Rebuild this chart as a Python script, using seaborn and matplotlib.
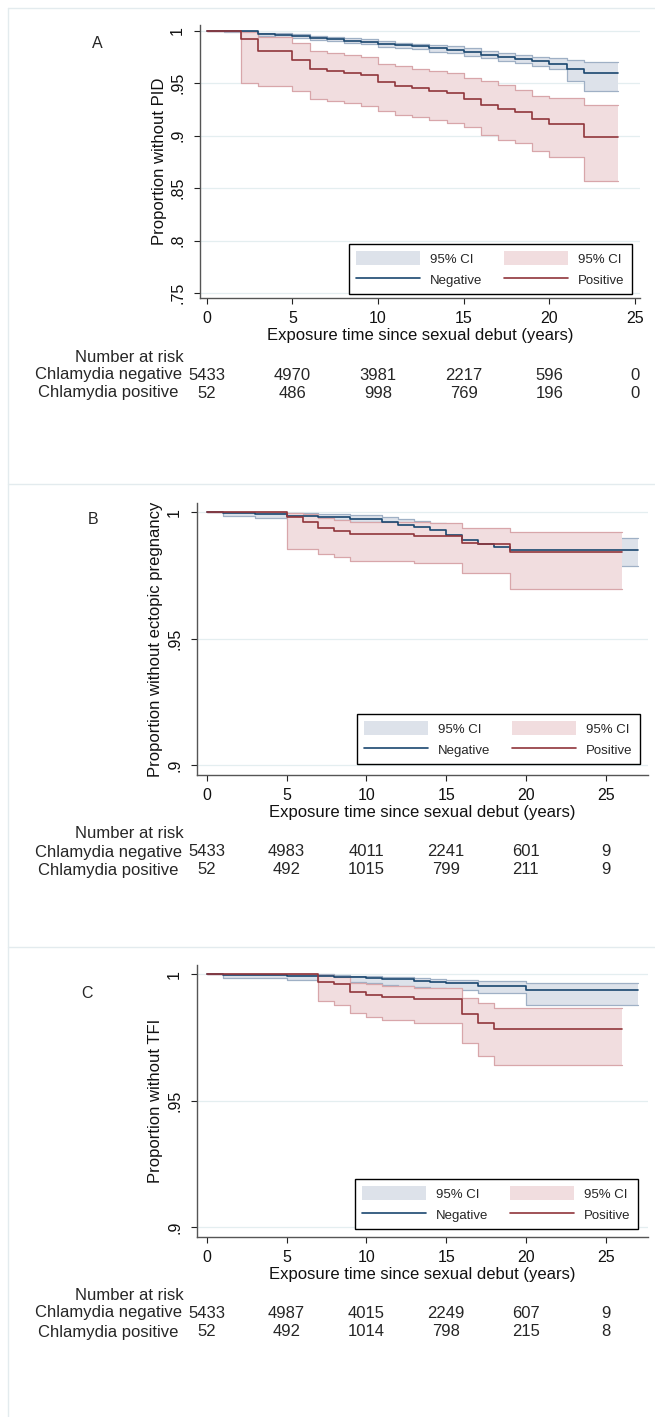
import matplotlib.pyplot as plt
import seaborn as sns
from matplotlib.patches import Patch
from matplotlib.lines import Line2D
from matplotlib.transforms import blended_transform_factory

# ---- Panel A : PID ----
a_neg_t = [0, 1, 3, 4, 5, 6, 7, 8, 9, 10, 11, 12, 13, 14, 15, 16, 17, 18, 19, 20, 21, 22, 24]
a_neg_s = [1.0, 0.9995, 0.9971, 0.9962, 0.9952, 0.9930, 0.9921, 0.9908, 0.9895, 0.9876, 0.9867, 0.9857,
           0.9835, 0.9819, 0.9797, 0.9774, 0.9752, 0.9730, 0.9711, 0.9689, 0.9635, 0.9597, 0.9597]
a_neg_lo = [1.0, 0.9990, 0.9955, 0.9945, 0.9935, 0.9910, 0.9900, 0.9890, 0.9875, 0.9850, 0.9840, 0.9825,
            0.9800, 0.9790, 0.9765, 0.9740, 0.9715, 0.9690, 0.9665, 0.9635, 0.9525, 0.9425, 0.9425]
a_neg_hi = [1.0, 1.0, 0.9985, 0.9980, 0.9970, 0.9950, 0.9940, 0.9930, 0.9920, 0.9900, 0.9890, 0.9880,
            0.9865, 0.9855, 0.9835, 0.9810, 0.9790, 0.9775, 0.9755, 0.9740, 0.9725, 0.9708, 0.9708]
a_pos_t = [0, 2, 3, 5, 6, 7, 8, 9, 10, 11, 12, 13, 14, 15, 16, 17, 18, 19, 20, 22, 24]
a_pos_s = [1.0, 0.9924, 0.9809, 0.9724, 0.9638, 0.9622, 0.9603, 0.9581, 0.9517, 0.9476, 0.9454,
           0.9428, 0.9406, 0.9352, 0.9295, 0.9253, 0.9231, 0.9158, 0.9114, 0.8993, 0.8993]
a_pos_hi = [1.0, 0.9987, 0.9940, 0.9882, 0.9810, 0.9787, 0.9774, 0.9749, 0.9682, 0.9666, 0.9641,
            0.9619, 0.9597, 0.9549, 0.9523, 0.9485, 0.9438, 0.9380, 0.9358, 0.9295, 0.9295]
a_pos_lo = [1.0, 0.9508, 0.9479, 0.9428, 0.9352, 0.9336, 0.9311, 0.9288, 0.9238, 0.9199, 0.9177,
            0.9152, 0.9126, 0.9079, 0.9009, 0.8961, 0.8929, 0.8856, 0.8796, 0.8564, 0.8564]
a_risk_neg = [5433, 4970, 3981, 2217, 596, 0]
a_risk_pos = [52, 486, 998, 769, 196, 0]

# ---- Panel B : ectopic pregnancy ----
b_neg_t = [0, 1, 3, 5, 7, 9, 11, 12, 13, 14, 15, 16, 17, 18, 19, 27]
b_neg_s = [1.0, 0.9997, 0.9992, 0.9984, 0.9979, 0.9971, 0.9962, 0.9951, 0.9942, 0.9929, 0.9909,
           0.9889, 0.9874, 0.9863, 0.9850, 0.9850]
b_neg_lo = [1.0, 0.9984, 0.9975, 0.9972, 0.9968, 0.9962, 0.9955, 0.9942, 0.9932, 0.9916, 0.9896,
            0.9872, 0.9857, 0.9843, 0.9788, 0.9788]
b_neg_hi = [1.0, 1.0, 0.9999, 0.9996, 0.9993, 0.9987, 0.9980, 0.9971, 0.9964, 0.9958, 0.9938,
            0.9918, 0.9908, 0.9901, 0.9899, 0.9899]
b_pos_t = [0, 5, 6, 7, 8, 9, 13, 14, 16, 17, 19, 26]
b_pos_s = [1.0, 0.9982, 0.9962, 0.9936, 0.9926, 0.9914, 0.9907, 0.9907, 0.9876, 0.9872, 0.9841, 0.9841]
b_pos_hi = [1.0, 0.9997, 0.9992, 0.9975, 0.9968, 0.9962, 0.9962, 0.9955, 0.9936, 0.9936, 0.9920, 0.9920]
b_pos_lo = [1.0, 0.9855, 0.9855, 0.9834, 0.9821, 0.9808, 0.9799, 0.9799, 0.9760, 0.9760, 0.9696, 0.9696]
b_risk_neg = [5433, 4983, 4011, 2241, 601, 9]
b_risk_pos = [52, 492, 1015, 799, 211, 9]

# ---- Panel C : TFI ----
c_neg_t = [0, 1, 5, 7, 8, 9, 10, 11, 12, 13, 14, 15, 17, 20, 27]
c_neg_s = [1.0, 0.9996, 0.9993, 0.9992, 0.9989, 0.9987, 0.9984, 0.9982, 0.9979, 0.9974, 0.9970,
           0.9963, 0.9954, 0.9939, 0.9939]
c_neg_lo = [1.0, 0.9983, 0.9976, 0.9974, 0.9970, 0.9967, 0.9963, 0.9957, 0.9953, 0.9950, 0.9947,
            0.9937, 0.9924, 0.9880, 0.9880]
c_neg_hi = [1.0, 1.0, 1.0, 0.9999, 0.9996, 0.9994, 0.9992, 0.9989, 0.9987, 0.9983, 0.9980,
            0.9976, 0.9972, 0.9966, 0.9966]
c_pos_t = [0, 7, 8, 9, 10, 11, 13, 16, 17, 18, 26]
c_pos_s = [1.0, 0.9970, 0.9961, 0.9930, 0.9917, 0.9911, 0.9900, 0.9842, 0.9805, 0.9785, 0.9785]
c_pos_hi = [1.0, 0.9996, 0.9989, 0.9966, 0.9961, 0.9953, 0.9947, 0.9904, 0.9884, 0.9867, 0.9867]
c_pos_lo = [1.0, 0.9892, 0.9880, 0.9845, 0.9832, 0.9818, 0.9805, 0.9726, 0.9676, 0.9643, 0.9643]
c_risk_neg = [5433, 4987, 4015, 2249, 607, 9]
c_risk_pos = [52, 492, 1014, 798, 215, 8]

risk_times = [0, 5, 10, 15, 20, 25]

sns.set_style('white')
plt.rcParams['font.family'] = ['Liberation Sans', 'DejaVu Sans']

W, H = 655, 1417
blue_line, red_line = '#1a476f', '#90353b'
blue_fill, red_fill = '#dde2ea', '#f1dddf'
blue_edge, red_edge = '#9fb0c5', '#d8a6aa'

fig = plt.figure(figsize=(W / 100, H / 100), dpi=100)

# panel frames
frame_c = '#e3ebee'
fig.add_artist(Line2D([8 / W, 8 / W], [0, 1 - 8 / H], transform=fig.transFigure, color=frame_c, lw=1))
for yy in [8, 483.5, 946.5]:
    fig.add_artist(Line2D([8 / W, 1], [1 - yy / H] * 2, transform=fig.transFigure, color=frame_c, lw=1))

panels = [
    dict(letter='A', letter_xy=(97, 44), rect=[199.7, 25, 640, 298], xlim=(-0.41, 25.29),
         ylim=(0.7452, 1.0057), yticks=[0.75, 0.8, 0.85, 0.9, 0.95, 1.0],
         yticklabels=['.75', '.8', '.85', '.9', '.95', '1'], ylabel='Proportion without PID',
         neg=(a_neg_t, a_neg_s, a_neg_lo, a_neg_hi), pos=(a_pos_t, a_pos_s, a_pos_lo, a_pos_hi),
         risk=(a_risk_neg, a_risk_pos), rows=(357, 375, 393), leg=(632, 294)),
    dict(letter='B', letter_xy=(93, 519), rect=[196.7, 503, 648, 775], xlim=(-0.63, 27.65),
         ylim=(0.8961, 1.0036), yticks=[0.9, 0.95, 1.0], yticklabels=['.9', '.95', '1'],
         ylabel='Proportion without ectopic pregnancy',
         neg=(b_neg_t, b_neg_s, b_neg_lo, b_neg_hi), pos=(b_pos_t, b_pos_s, b_pos_lo, b_pos_hi),
         risk=(b_risk_neg, b_risk_pos), rows=(833, 852, 870), leg=(640, 764)),
    dict(letter='C', letter_xy=(87, 993), rect=[196.7, 965, 648, 1236.7], xlim=(-0.63, 27.65),
         ylim=(0.8963, 1.0036), yticks=[0.9, 0.95, 1.0], yticklabels=['.9', '.95', '1'],
         ylabel='Proportion without TFI',
         neg=(c_neg_t, c_neg_s, c_neg_lo, c_neg_hi), pos=(c_pos_t, c_pos_s, c_pos_lo, c_pos_hi),
         risk=(c_risk_neg, c_risk_pos), rows=(1295, 1313, 1332), leg=(638, 1229)),
]

for p in panels:
    x0, y0, x1, y1 = p['rect']
    ax = fig.add_axes([x0 / W, 1 - y1 / H, (x1 - x0) / W, (y1 - y0) / H])
    ax.set_facecolor('white')

    # confidence bands first (negative, then positive), survival lines on top
    layers = [(p['neg'], blue_fill, blue_edge), (p['pos'], red_fill, red_edge)]
    z = 1.0
    for (t, s, lo, hi), fill, edge in layers:
        ax.fill_between(t, lo, hi, step='post', color=fill, lw=0, zorder=z)
        sns.lineplot(x=t, y=lo, ax=ax, color=edge, lw=0.9, drawstyle='steps-post',
                     errorbar=None, legend=False, zorder=z + 0.05)
        sns.lineplot(x=t, y=hi, ax=ax, color=edge, lw=0.9, drawstyle='steps-post',
                     errorbar=None, legend=False, zorder=z + 0.05)
        z += 0.2
    sns.lineplot(x=p['neg'][0], y=p['neg'][1], ax=ax, color=blue_line, lw=1.2,
                 drawstyle='steps-post', errorbar=None, legend=False, zorder=2)
    sns.lineplot(x=p['pos'][0], y=p['pos'][1], ax=ax, color=red_line, lw=1.2,
                 drawstyle='steps-post', errorbar=None, legend=False, zorder=2.1)

    for yv in p['yticks']:
        ax.axhline(yv, color='#e4eef0', lw=0.9, zorder=0.5)

    ax.set_xlim(*p['xlim'])
    ax.set_ylim(*p['ylim'])
    ax.set_xticks(risk_times)
    ax.set_xticklabels([str(v) for v in risk_times])
    ax.set_yticks(p['yticks'])
    ax.set_yticklabels(p['yticklabels'], rotation=90, va='center')
    ax.tick_params(axis='both', bottom=True, left=True, direction='out', length=4,
                   width=0.8, color='#222222', labelsize=11.5, labelcolor='#111111')
    ax.tick_params(axis='y', pad=6.5)
    ax.tick_params(axis='x', pad=5.5)
    for side in ['top', 'right']:
        ax.spines[side].set_visible(False)
    for side in ['left', 'bottom']:
        ax.spines[side].set_color('#555555')
        ax.spines[side].set_linewidth(1.0)

    ax.set_xlabel('Exposure time since sexual debut (years)', fontsize=12, color='#111111')
    ax.set_ylabel(p['ylabel'], fontsize=12, color='#111111')
    ax.xaxis.set_label_coords(0.5, -0.11)
    lab_x = 167 if p['letter'] == 'A' else 163
    ax.yaxis.set_label_coords((lab_x - x0) / (x1 - x0), 0.5)

    handles = [Patch(facecolor=blue_fill, edgecolor='none'),
               Line2D([], [], color=blue_line, lw=1.2),
               Patch(facecolor=red_fill, edgecolor='none'),
               Line2D([], [], color=red_line, lw=1.2)]
    labels = ['95% CI', 'Negative', '95% CI', 'Positive']
    lx, ly = p['leg']
    leg = ax.legend(handles, labels, ncol=2, loc='lower right',
                    bbox_to_anchor=(lx / W, 1 - ly / H), bbox_transform=fig.transFigure,
                    borderaxespad=0, fontsize=9.5, handlelength=4.8, handleheight=1.3,
                    handletextpad=0.8, columnspacing=1.65, labelspacing=0.5, borderpad=0.55,
                    fancybox=False, framealpha=1, edgecolor='black')
    leg.get_frame().set_linewidth(1.0)

    fig.text(p['letter_xy'][0] / W, 1 - p['letter_xy'][1] / H, p['letter'],
             ha='center', va='center', fontsize=11.5)

    # number at risk table
    r_head, r_neg, r_pos = p['rows']
    fig.text(184 / W, 1 - r_head / H, 'Number at risk', ha='right', va='center', fontsize=12)
    fig.text(108.5 / W, 1 - r_neg / H, 'Chlamydia negative', ha='center', va='center', fontsize=12)
    fig.text(108.5 / W, 1 - r_pos / H, 'Chlamydia positive', ha='center', va='center', fontsize=12)
    tr = blended_transform_factory(ax.transData, fig.transFigure)
    for tv, nv, pv in zip(risk_times, p['risk'][0], p['risk'][1]):
        ax.text(tv, 1 - r_neg / H, str(nv), transform=tr, ha='center', va='center', fontsize=12,
                clip_on=False)
        ax.text(tv, 1 - r_pos / H, str(pv), transform=tr, ha='center', va='center', fontsize=12,
                clip_on=False)

fig.savefig('out.png', dpi=100)
